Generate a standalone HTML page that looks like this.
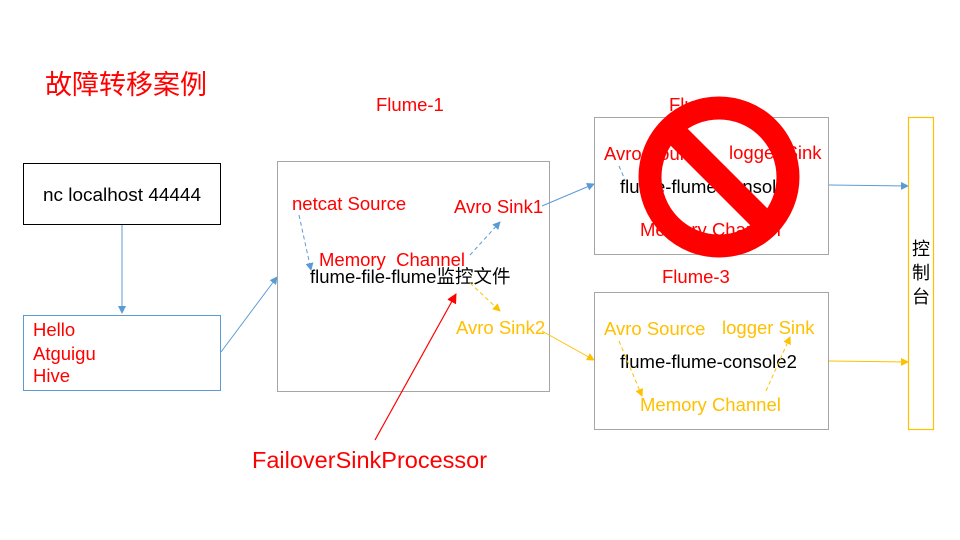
<!DOCTYPE html>
<html><head><meta charset="utf-8"><style>
html,body{margin:0;padding:0;background:#fff;}
svg{display:block;}
text{font-family:"Liberation Sans","Noto Sans CJK SC",sans-serif;white-space:pre;}
</style></head><body>
<svg width="960" height="540" viewBox="0 0 960 540" xmlns="http://www.w3.org/2000/svg">
<defs>
<marker id="ab" markerWidth="8" markerHeight="8" refX="7" refY="4" orient="auto" markerUnits="userSpaceOnUse"><path d="M0,0 L8,4 L0,8 z" fill="#5B9BD5"/></marker>
<marker id="ay" markerWidth="8" markerHeight="8" refX="7" refY="4" orient="auto" markerUnits="userSpaceOnUse"><path d="M0,0 L8,4 L0,8 z" fill="#FFC000"/></marker>
<marker id="ar" markerWidth="10" markerHeight="10" refX="9" refY="5" orient="auto" markerUnits="userSpaceOnUse"><path d="M0,0 L10,5 L0,10 z" fill="#FF0000"/></marker>
</defs>
<text x="45" y="94" font-size="27" fill="#FF0000">故障转移案例</text>

<rect x="23.5" y="163.5" width="197" height="61" fill="none" stroke="#000" stroke-width="1"/>
<text x="122" y="201" font-size="18.5" text-anchor="middle" fill="#000" textLength="158" lengthAdjust="spacingAndGlyphs">nc localhost 44444</text>
<line x1="122" y1="225" x2="122" y2="313" stroke="#5B9BD5" stroke-width="1" marker-end="url(#ab)"/>

<rect x="23.5" y="315.5" width="197" height="75" fill="none" stroke="#5B9BD5" stroke-width="1"/>
<text x="33" y="336" font-size="18.5" fill="#FF0000">Hello</text>
<text x="33" y="360" font-size="18.5" fill="#FF0000">Atguigu</text>
<text x="33" y="382" font-size="18.5" fill="#FF0000">Hive</text>
<line x1="221" y1="352" x2="277" y2="277" stroke="#5B9BD5" stroke-width="1" marker-end="url(#ab)"/>

<text x="376" y="111" font-size="18.5" fill="#FF0000">Flume-1</text>
<rect x="277.5" y="161.5" width="272" height="230" fill="none" stroke="#A6A6A6" stroke-width="1"/>
<text x="292" y="210" font-size="18.5" fill="#FF0000">netcat Source</text>
<text x="454" y="213" font-size="18.5" fill="#FF0000">Avro Sink1</text>
<text x="319" y="266" font-size="18.5" fill="#FF0000">Memory  Channel</text>
<text x="310" y="283" font-size="18.5" fill="#000">flume-file-flume监控文件</text>
<text x="456" y="334" font-size="18.5" fill="#FFC000">Avro Sink2</text>
<line x1="299" y1="215" x2="311" y2="270" stroke="#5B9BD5" stroke-dasharray="4,3" marker-end="url(#ab)"/>
<line x1="470" y1="255" x2="500" y2="222" stroke="#5B9BD5" stroke-dasharray="4,3" marker-end="url(#ab)"/>
<line x1="470" y1="283" x2="500" y2="311" stroke="#FFC000" stroke-dasharray="4,3" marker-end="url(#ay)"/>
<line x1="375" y1="440" x2="456" y2="294" stroke="#FF0000" stroke-width="1.2" marker-end="url(#ar)"/>
<text x="252" y="468" font-size="23.5" fill="#FF0000">FailoverSinkProcessor</text>

<line x1="542" y1="206" x2="594" y2="184" stroke="#5B9BD5" marker-end="url(#ab)"/>
<line x1="542" y1="331" x2="594" y2="360" stroke="#FFC000" marker-end="url(#ay)"/>

<text x="669" y="111" font-size="18.5" fill="#FF0000">Flume-2</text>
<rect x="594.5" y="117.5" width="234" height="137" fill="none" stroke="#A6A6A6"/>
<text x="604" y="160" font-size="18.5" fill="#FF0000">Avro Source</text>
<text x="729" y="159" font-size="18.5" fill="#FF0000">logger Sink</text>
<text x="620" y="193" font-size="18.5" fill="#000">flume-flume-console1</text>
<text x="640" y="236" font-size="18.5" fill="#FF0000">Memory Channel</text>
<line x1="619" y1="166" x2="625" y2="180" stroke="#5B9BD5" stroke-dasharray="4,3"/>
<line x1="829" y1="185" x2="908" y2="186" stroke="#5B9BD5" marker-end="url(#ab)"/>

<circle cx="719" cy="177" r="69" fill="none" stroke="#FF0000" stroke-width="23"/>
<line x1="672" y1="130" x2="766" y2="224" stroke="#FF0000" stroke-width="24"/>

<text x="662" y="283" font-size="18.5" fill="#FF0000">Flume-3</text>
<rect x="594.5" y="292.5" width="234" height="137" fill="none" stroke="#A6A6A6"/>
<text x="604" y="335" font-size="18.5" fill="#FFC000">Avro Source</text>
<text x="722" y="334" font-size="18.5" fill="#FFC000">logger Sink</text>
<text x="620" y="368" font-size="18.5" fill="#000">flume-flume-console2</text>
<text x="640" y="411" font-size="18.5" fill="#FFC000">Memory Channel</text>
<line x1="619" y1="341" x2="642" y2="396" stroke="#FFC000" stroke-dasharray="4,3" marker-end="url(#ay)"/>
<line x1="766" y1="391" x2="790" y2="337" stroke="#FFC000" stroke-dasharray="4,3" marker-end="url(#ay)"/>
<line x1="829" y1="361" x2="908" y2="362" stroke="#FFC000" marker-end="url(#ay)"/>

<rect x="908.5" y="117.5" width="25" height="312" fill="none" stroke="#FFC000" stroke-width="1.2"/>
<text x="921" y="255" font-size="18" text-anchor="middle" fill="#000">控</text>
<text x="921" y="279" font-size="18" text-anchor="middle" fill="#000">制</text>
<text x="921" y="303" font-size="18" text-anchor="middle" fill="#000">台</text>
</svg>
</body></html>
